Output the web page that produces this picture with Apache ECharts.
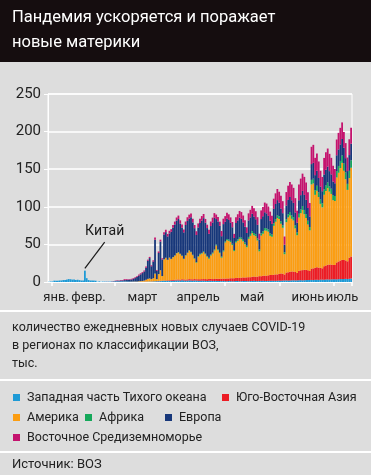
<!DOCTYPE html>
<html>
<head>
<meta charset="utf-8">
<script src="https://cdn.jsdelivr.net/npm/echarts@6/dist/echarts.min.js"></script>
<style>
html,body{margin:0;padding:0;background:#dddddd;}
#chart{width:371px;height:475px;}
</style>
</head>
<body>
<div id="chart"></div>
<script>
// ---- categories: daily, 24 Jan 2020 .. 10 Jul 2020 ----
const startDate = [2020, 0, 24];
const dayCount = 169;
const categories = [];
for (let i = 0; i < dayCount; i++) {
  const d = new Date(Date.UTC(startDate[0], startDate[1], startDate[2] + i));
  categories.push(d.toISOString().slice(0, 10));
}
const monthLabels = ['янв.', 'февр.', 'март', 'апрель', 'май', 'июнь', 'июль'];
const monthLabelDates = ['2020-01-28', '2020-02-15', '2020-03-16', '2020-04-16', '2020-05-16', '2020-06-16', '2020-07-05'];
const tickDates = ['2020-01-26', '2020-03-01', '2020-04-01', '2020-05-01', '2020-06-01', '2020-07-01'];
const yTicks = [0, 50, 100, 150, 200, 250];

// ---- series values, thousand new cases per day ----
const westernPacific = [
  0.3,0.7,0.8,1.8,1.5,1.7,2.0,2.1,
  2.6,2.8,3.2,3.9,3.7,3.2,3.4,2.7,3.0,2.5,2.0,2.0,15.1,5.1,2.6,2.0,2.0,1.9,1.7,0.4,0.9,0.4,0.6,0.5,0.5,0.4,0.5,0.4,0.6,
  0.8,0.9,0.8,1.0,0.9,0.8,0.7,0.6,0.5,0.4,0.4,0.3,0.3,0.3,0.3,0.3,0.3,0.4,0.5,0.6,0.6,0.8,0.9,1.0,1.1,1.2,1.4,1.5,1.4,1.6,1.5,
  1.6,1.8,1.9,2.0,2.1,1.9,2.2,2.0,1.8,1.9,2.1,2.0,1.8,2.0,1.9,1.7,1.6,1.8,1.7,1.5,1.4,1.5,1.6,1.4,1.3,1.5,1.4,1.3,1.2,1.4,
  1.2,1.1,1.3,1.2,1.0,1.1,1.2,1.3,1.1,1.2,1.3,1.4,1.2,1.1,1.3,1.4,1.5,1.3,1.2,1.4,1.5,1.6,1.4,1.3,1.5,1.6,1.7,1.6,1.5,1.7,1.8,
  1.8,1.9,2.0,2.1,1.9,2.0,2.2,2.3,2.1,2.2,2.4,2.5,2.3,2.4,2.6,2.5,2.7,2.8,2.6,2.9,3.0,2.8,3.1,3.2,3.0,3.3,3.4,3.2,3.5,3.6,
  3.7,3.5,3.8,4.0,3.9,4.1,4.2,4.0,4.3,4.5
];
const southEastAsia = [
  0,0,0,0,0,0,0,0,
  0,0,0,0,0,0,0,0,0,0,0,0,0,0,0,0,0,0,0,0,0,0,0,0,0,0,0,0,0,
  0,0,0,0,0,0,0,0,0,0,0,0,0,0,0.1,0.1,0.1,0.1,0.1,0.1,0.2,0.2,0.2,0.3,0.3,0.4,0.4,0.5,0.6,0.7,0.8,
  0.9,1.0,1.1,1.2,1.3,1.2,1.4,1.5,1.4,1.6,1.7,1.6,1.8,1.9,1.8,2.0,2.1,2.0,2.2,2.4,2.3,2.5,2.6,2.5,2.7,2.9,2.8,3.0,3.2,3.1,
  3.3,3.5,3.4,3.8,4.0,3.9,4.2,4.4,4.3,4.6,4.8,4.7,5.0,5.3,5.1,5.5,5.8,5.6,6.0,6.4,6.2,6.7,7.1,6.9,7.4,7.8,7.6,8.1,8.6,8.4,9.0,
  9.5,9.2,8.0,10.5,11.0,11.5,11.8,11.5,11.2,10.0,12.5,13.0,13.5,13.8,13.5,13.0,12.0,15.0,15.5,16.0,16.5,16.2,15.8,15.0,18.0,18.8,19.5,20.0,19.6,19.2,
  19.0,22.5,23.5,24.5,25.5,25.0,24.5,23.5,28.0,29.5
];
const americas = [
  0,0,0,0,0,0,0,0,
  0,0,0,0,0,0,0,0,0,0,0,0,0,0,0,0,0,0,0,0,0,0,0,0,0,0,0,0,0,
  0,0,0,0,0,0.1,0.1,0.1,0.1,0.2,0.3,0.4,0.5,0.7,0.8,1.0,1.5,2.5,3.5,4.0,3.0,4.0,10,2.5,9,14,6,28,30,27,30,
  28,30,32,35,36,34,31,27,32,35,38,36,32,27,22,30,33,34,36,33,30,27,31,34,38,44,38,34,28,36,
  48,51,50,48,44,36,47,49,52,51,48,44,40,51,55,58,55,54,48,33,54,56,60,60,58,52,51,65,70,75,73,
  66,61,27,67,73,75,70,68,58,50,71,76,80,74,69,61,54,112,113,97,102,94,85,81,95,99,102,97,94,86,
  85,113,118,123,129,119,108,95,106,118
];
const africa = [
  0,0,0,0,0,0,0,0,
  0,0,0,0,0,0,0,0,0,0,0,0,0,0,0,0,0,0,0,0,0,0,0,0,0,0,0,0,0,
  0,0,0,0,0,0,0,0,0,0,0,0,0,0,0,0,0.1,0.1,0.1,0.1,0.1,0.1,0.2,0.1,0.2,0.2,0.2,0.3,0.3,0.3,0.3,
  0.3,0.3,0.4,0.4,0.4,0.5,0.5,0.5,0.6,0.6,0.6,0.6,0.7,0.7,0.8,0.8,0.9,0.9,1.0,1.0,1.0,1.1,1.2,1.2,1.3,1.3,1.3,1.4,1.5,1.5,
  1.6,1.7,1.8,1.7,1.8,1.5,2.0,2.2,2.3,2.2,2.1,2.3,2.0,2.5,2.6,2.8,2.7,2.6,2.8,2.4,3.0,3.2,3.3,3.1,3.0,3.2,2.8,3.5,3.6,3.8,3.7,
  3.5,3.4,2.5,4.0,4.2,4.5,4.7,4.4,4.2,3.6,4.8,5.0,5.3,5.6,5.2,5.0,4.4,6.0,6.3,6.2,6.5,6.3,6.0,5.5,7.0,7.3,7.6,7.2,7.0,6.8,
  6.5,8.5,9.0,9.5,9.8,9.5,9.0,8.0,9.5,10.0
];
const europe = [
  0,0,0,0,0,0,0,0,
  0,0,0,0,0,0,0,0,0,0,0,0,0,0,0,0,0,0,0,0,0,0.02,0.05,0.1,0.1,0.15,0.2,0.3,0.4,
  0.6,0.8,0.7,1.0,1.2,1.6,1.8,2.3,2.5,2.8,3.5,4.5,6.0,7.5,9,10.5,12,16,24,27,17,22,45,11,28,38,22,33,34,31,32,
  36,39,41,43,44,40,37,35,40,42,42,46,43,40,36,38,41,43,44,41,37,32,38,40,42,34,37,35,27,35,
  26,27,26,24,22,16,24,25,26,25,23,21,17,22,22,23,22,20,18,13,19,20,21,20,18,17,14,19,20,20,18,
  17,16,10,18,19,20,20,19,17,13,18,19,20,20,19,17,14,21,21,20,20,19,17,16,20,21,21,20,19,18,
  17,21,22,22,22,21,19,17,21,22
];
const easternMediterranean = [
  0,0,0,0,0,0,0,0,
  0,0,0,0,0,0,0,0,0,0,0,0,0,0,0,0,0,0,0,0.01,0.01,0.02,0.03,0.05,0.06,0.1,0.1,0.15,0.2,
  0.4,0.5,0.6,0.7,0.6,1.2,1.1,0.8,0.7,0.9,1.0,1.1,1.0,1.4,1.4,1.2,1.3,1.5,1.5,1.6,1.3,1.7,2.9,1.1,2.0,2.5,1.6,3.0,3.2,3.3,3.5,
  3.5,3.8,4.0,4.2,4.5,4.4,4.2,3.8,4.6,5.0,5.2,5.0,4.8,4.2,5.0,5.4,5.6,6.0,5.5,5.0,4.5,5.5,6.0,6.5,6.3,6.0,5.8,5.5,7.0,7.2,
  7.5,7.8,7.5,7.2,7.0,5.5,7.6,8.2,8.8,9.0,9.2,8.8,7.5,9.4,10.0,10.5,11.0,10.6,10.2,8.0,11.5,12.2,12.8,13.0,12.5,12.0,11.0,13.6,14.2,14.8,14.5,
  17,16,11,18,19,20,21,20,19,16,21,22,23,24,23,21,18,23,24,23,23,22,21,19,22,23,24,23,22,21,
  19,21,22,22,22,21,20,18,21,21
];
const seriesNames = ['Западная часть Тихого океана', 'Юго-Восточная Азия', 'Америка', 'Африка', 'Европа', 'Восточное Средиземноморье'];
const seriesColors = ['#1e9ad6', '#ec1c24', '#fb9d12', '#15a85a', '#17377a', '#c4136e'];
const seriesData = [westernPacific, southEastAsia, americas, africa, europe, easternMediterranean];
const annotationText = 'Китай';
const annotationFrom = ['2020-02-13', 18];
const annotationTo = ['2020-02-24', 53];

const FONT = "Roboto,'Liberation Sans',sans-serif";

const chart = echarts.init(document.getElementById('chart'), null, {renderer: 'canvas'});

const series = seriesData.map((d, k) => {
  const s = {
    name: seriesNames[k],
    type: 'bar',
    stack: 'total',
    data: d,
    barCategoryGap: '0%',
    itemStyle: {color: seriesColors[k]},
    emphasis: {disabled: true},
    animation: false
  };
  if (k === 0) {
    s.markLine = {
      silent: true,
      symbol: ['none', 'none'],
      lineStyle: {color: '#1a1a1a', width: 1.2, type: 'solid'},
      label: {show: false},
      data: [[{coord: annotationFrom}, {coord: annotationTo}]],
      animation: false
    };
    s.markPoint = {
      silent: true,
      symbol: 'circle',
      symbolSize: 0,
      itemStyle: {color: 'transparent'},
      label: {show: true, position: 'top', distance: 4, formatter: annotationText, color: '#1a1a1a', fontSize: 14, fontFamily: FONT},
      data: [{coord: annotationTo}],
      animation: false
    };
  }
  return s;
});

const legendPos = [
  {left: 13, top: 391}, {left: 222, top: 391},
  {left: 13, top: 411}, {left: 85, top: 411}, {left: 165, top: 411},
  {left: 13, top: 431}
];
const legends = seriesNames.map((n, k) => ({
  data: [n],
  left: legendPos[k].left,
  top: legendPos[k].top,
  padding: 0,
  icon: 'rect',
  itemWidth: 7,
  itemHeight: 7,
  selectedMode: false,
  textStyle: {color: '#222', fontSize: 12.5, fontFamily: FONT, padding: [0, 0, 0, 2]}
}));

const option = {
  backgroundColor: '#dddddd',
  animation: false,
  textStyle: {fontFamily: FONT},
  graphic: [
    {type: 'rect', shape: {x: 0, y: 0, width: 371, height: 62}, style: {fill: '#150d0f'}, z: -10},
    {type: 'rect', shape: {x: 0, y: 310, width: 371, height: 2}, style: {fill: '#ffffff'}, z: -10},
    {type: 'rect', shape: {x: 0, y: 379, width: 371, height: 2}, style: {fill: '#ffffff'}, z: -10},
    {type: 'rect', shape: {x: 0, y: 451, width: 371, height: 2}, style: {fill: '#ffffff'}, z: -10}
  ],
  title: [
    {text: 'Пандемия ускоряется и поражает\nновые материки', left: 12, top: 5, padding: 0,
     textStyle: {color: '#ffffff', fontSize: 16.5, lineHeight: 25, fontWeight: 'normal', fontFamily: FONT}},
    {text: 'количество ежедневных новых случаев COVID-19\nв регионах по классификации ВОЗ,\nтыс.', left: 12, top: 319, padding: 0,
     textStyle: {color: '#222', fontSize: 12.5, lineHeight: 18, fontWeight: 'normal', fontFamily: FONT}},
    {text: 'Источник: ВОЗ', left: 12, top: 458, padding: 0,
     textStyle: {color: '#222', fontSize: 13, fontWeight: 'normal', fontFamily: FONT}}
  ],
  legend: legends,
  grid: {left: 48, top: 94, width: 304, height: 188, show: true, borderColor: '#ffffff', borderWidth: 1, backgroundColor: 'transparent', containLabel: false},
  xAxis: {
    type: 'category',
    data: categories,
    boundaryGap: true,
    axisLine: {show: true, lineStyle: {color: '#ffffff', width: 1}},
    axisTick: {show: true, length: 4, lineStyle: {color: '#ffffff', width: 1.5},
      interval: (idx, val) => tickDates.includes(val)},
    axisLabel: {show: true, color: '#222', fontSize: 13, fontFamily: FONT, margin: 9, hideOverlap: false,
      interval: (idx, val) => monthLabelDates.includes(val),
      formatter: (val) => monthLabels[monthLabelDates.indexOf(val)] || ''},
    splitLine: {show: false}
  },
  yAxis: {
    type: 'value',
    min: yTicks[0],
    max: yTicks[yTicks.length - 1],
    interval: 50,
    axisLine: {show: true, lineStyle: {color: '#ffffff'}},
    axisTick: {show: true, length: 4, lineStyle: {color: '#ffffff'}},
    axisLabel: {color: '#222', fontSize: 15, fontFamily: FONT, margin: 7},
    splitLine: {show: true, lineStyle: {color: '#ffffff', width: 1.5}}
  },
  series: series
};
chart.setOption(option);
</script>
</body>
</html>
